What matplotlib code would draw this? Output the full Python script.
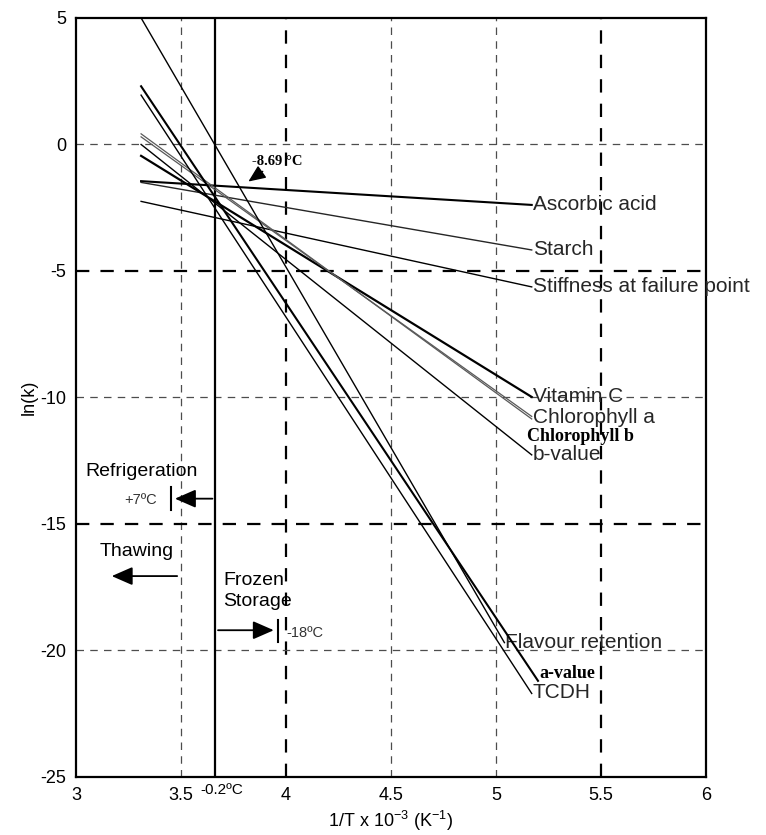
import matplotlib
matplotlib.use("Agg")
import matplotlib.pyplot as plt

plt.rcParams["font.family"] = ["Liberation Sans", "DejaVu Sans"]
plt.rcParams["mathtext.fontset"] = "custom"
plt.rcParams["mathtext.rm"] = "Liberation Sans"
plt.rcParams["mathtext.it"] = "Liberation Sans"

# kinetic lines: ln(k) vs 1/T, start and end points
series_names = ["Ascorbic acid", "Starch", "Stiffness at failure point", "Vitamin C",
                "Chlorophyll a", "Chlorophyll b", "b-value", "Flavour retention",
                "a-value", "TCDH"]
x_start = [3.31, 3.31, 3.31, 3.31, 3.31, 3.31, 3.31, 3.31, 3.31, 3.31]
y_start = [-1.45, -1.5, -2.25, -0.45, 0.42, 0.3, 0.0, 5.0, 2.3, 1.95]
x_end = [5.17, 5.17, 5.17, 5.17, 5.17, 5.17, 5.17, 5.04, 5.2, 5.17]
y_end = [-2.39, -4.17, -5.63, -9.98, -10.85, -10.75, -12.27, -19.69, -21.2, -21.7]
line_width = [1.5, 1.0, 1.0, 1.6, 0.9, 0.9, 1.0, 1.0, 1.5, 1.0]
line_color = ["black", "0.15", "black", "black", "0.35", "0.35", "black", "black", "black", "black"]

# label positions and fonts
label_x = [5.176, 5.176, 5.176, 5.176, 5.176, 5.146, 5.176, 5.043, 5.205, 5.176]
label_y = [-2.39, -4.17, -5.63, -9.98, -10.78, -11.55, -12.27, -19.69, -20.9, -21.68]
label_serif = [False, False, False, False, False, True, False, False, True, False]

x_ticks = [3, 3.5, 4, 4.5, 5, 5.5, 6]
x_tick_labels = ["3", "3.5", "4", "4.5", "5", "5.5", "6"]
y_ticks = [5, 0, -5, -10, -15, -20, -25]
y_tick_labels = ["5", "0", "-5", "-10", "-15", "-20", "-25"]

grid_x_thin = [3.5, 4.5, 5.0]
grid_x_bold = [4.0, 5.5]
grid_y_thin = [0, -10, -20]
grid_y_bold = [-5, -15]

freeze_x = 3.663  # -0.2 C

fig = plt.figure(figsize=(7.66, 8.35), dpi=100)
ax = fig.add_axes([0.0992, 0.0695, 0.8225, 0.909])
ax.set_xlim(3, 6)
ax.set_ylim(-25, 5)

for gx in grid_x_thin:
    ax.axvline(gx, color="0.3", lw=0.9, dashes=(6, 5), zorder=1)
for gx in grid_x_bold:
    ax.axvline(gx, color="black", lw=1.6, dashes=(6, 5), zorder=1)
for gy in grid_y_thin:
    ax.axhline(gy, color="0.3", lw=0.9, dashes=(6, 5), zorder=1)
for gy in grid_y_bold:
    ax.axhline(gy, color="black", lw=1.6, dashes=(6, 5), zorder=1)

ax.axvline(freeze_x, color="black", lw=1.6, zorder=2)

for i, name in enumerate(series_names):
    ax.plot([x_start[i], x_end[i]], [y_start[i], y_end[i]],
            color=line_color[i], lw=line_width[i], zorder=3)
    if label_serif[i]:
        ax.text(label_x[i], label_y[i], name, family="Liberation Serif",
                weight="bold", fontsize=13, va="center", ha="left", color="black")
    else:
        ax.text(label_x[i], label_y[i], name, fontsize=15, va="center",
                ha="left", color="0.15", clip_on=False)

# -8.69 C marker
ax.text(3.84, -0.68, "-8.69 \u00b0C", family="Liberation Serif", weight="bold",
        fontsize=10.5, va="center", ha="left")
ax.annotate("", xy=(3.81, -1.53), xytext=(3.9, -1.0),
            arrowprops=dict(arrowstyle="-|>,head_length=0.7,head_width=0.3",
                            color="black", lw=1.0, mutation_scale=15))

# refrigeration
ax.text(3.043, -12.93, "Refrigeration", fontsize=14, va="center", ha="left")
ax.annotate("", xy=(3.458, -14.0), xytext=(freeze_x, -14.0),
            arrowprops=dict(arrowstyle="-|>,head_length=0.8,head_width=0.35",
                            color="black", lw=1.3, mutation_scale=16))
ax.plot([3.452, 3.452], [-13.55, -14.45], color="black", lw=1.5)
ax.text(3.228, -14.05, "+7\u00baC", fontsize=10.5, color="0.2", va="center", ha="left")

# thawing
ax.text(3.114, -16.1, "Thawing", fontsize=14, va="center", ha="left")
ax.annotate("", xy=(3.157, -17.06), xytext=(3.495, -17.06),
            arrowprops=dict(arrowstyle="-|>,head_length=0.8,head_width=0.35",
                            color="black", lw=1.3, mutation_scale=16))

# frozen storage
ax.text(3.70, -17.65, "Frozen\nStorage", fontsize=14, va="center", ha="left",
        linespacing=1.3)
ax.annotate("", xy=(3.955, -19.2), xytext=(freeze_x, -19.2),
            arrowprops=dict(arrowstyle="-|>,head_length=0.8,head_width=0.35",
                            color="black", lw=1.3, mutation_scale=16))
ax.plot([3.96, 3.96], [-18.8, -19.66], color="black", lw=1.5)
ax.text(4.0, -19.3, "-18\u00baC", fontsize=10.5, color="0.2", va="center", ha="left")

# -0.2 C under the axis
ax.text(3.59, -0.008, "-0.2\u00baC", fontsize=11, va="top", ha="left",
        transform=ax.get_xaxis_transform())

ax.set_xticks(x_ticks)
ax.set_xticklabels(x_tick_labels, fontsize=13)
ax.set_yticks(y_ticks)
ax.set_yticklabels(y_tick_labels, fontsize=13)
ax.tick_params(length=0, pad=7)
for s in ax.spines.values():
    s.set_linewidth(1.6)

ax.set_xlabel(r"1/T x 10$^{-3}$ (K$^{-1}$)", fontsize=13, labelpad=4)
ax.set_ylabel("ln(k)", fontsize=13, labelpad=2)

fig.savefig("out.png", dpi=100)
